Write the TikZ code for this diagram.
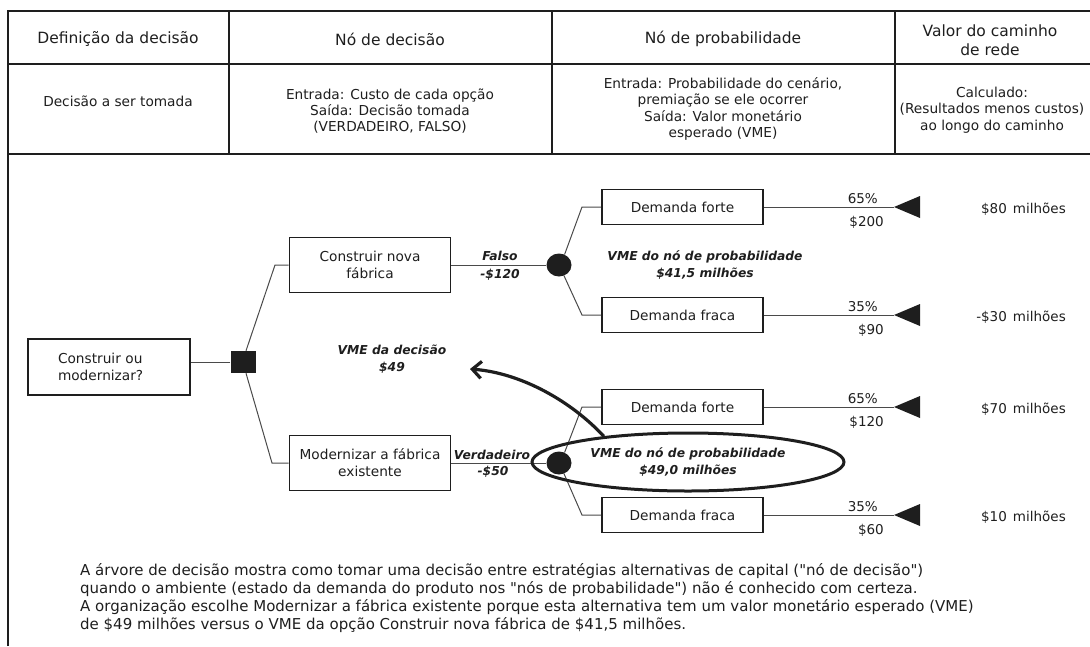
\documentclass[tikz,border=0pt]{standalone}
\usepackage{fontspec}
\setmainfont{DejaVu Sans}
\newfontfamily\rawfont{DejaVu Sans}
\usetikzlibrary{shapes.geometric,arrows.meta,calc}
\definecolor{ink}{HTML}{1E1E1E}
\definecolor{wire}{HTML}{4A4A4A}
\newcommand{\dq}{{\rawfont"}}
\begin{document}
\begin{tikzpicture}[x=1pt,y=-1pt,
  every node/.style={text=ink},
  rule/.style={line width=2pt, draw=ink},
  hdr/.style={font=\fontsize{15.5}{19}\selectfont, align=center},
  cell/.style={font=\fontsize{13.7}{16.3}\selectfont, align=center},
  lbl/.style={font=\fontsize{13.5}{16}\selectfont, inner sep=0pt},
  em/.style={font=\fontsize{12.3}{17}\selectfont\bfseries\itshape, inner sep=0pt},
  box/.style={draw=ink, line width=1.7pt, minimum width=161pt, inner sep=0pt,
    font=\fontsize{13.7}{17}\selectfont, align=center},
  wired/.style={draw=wire, line width=1pt},
  dnode/.style={fill=ink, minimum width=25pt, minimum height=22pt, inner sep=0pt},
  pnode/.style={ellipse, fill=ink, minimum width=25pt, minimum height=23pt, inner sep=0pt},
  term/.style={fill=ink}]
\useasboundingbox (0,0) rectangle (1090,646);

% ---- table frame ----
\draw[rule] (8,646) -- (8,11) -- (1090,11);
\draw[rule] (8,64) -- (1090,64);
\draw[rule] (8,154) -- (1090,154);
\foreach \cx in {229,552,895} \draw[rule] (\cx,11) -- (\cx,154);

% ---- table headers ----
\node[hdr] (h1) at (118,39) {Definição da decisão};
\node[hdr] (h2) at (390,39) {Nó de decisão};
\node[hdr] (h3) at (723,39) {Nó de probabilidade};
\node[hdr] (h4) at (990,40) {Valor do caminho\\de rede};

% ---- table descriptions ----
\node[cell] (r1) at (118,101) {Decisão a ser tomada};
\node[cell] (r2) at (390,111) {Entrada: Custo de cada opção\\Saída: Decisão tomada\\(VERDADEIRO, FALSO)};
\node[cell] (r3) at (723,109) {Entrada: Probabilidade do cenário,\\premiação se ele ocorrer\\Saída: Valor monetário\\esperado (VME)};
\node[cell] (r4) at (992,110) {Calculado:\\(Resultados menos custos)\\ao longo do caminho};

% ---- decision ----
\node[box, minimum width=162pt, minimum height=56pt, inner xsep=30pt,
      text width=102pt, align=left] (q) at (109,367) {Construir ou\\modernizar?};
\node[dnode] (sq) at (243,362) {};
\draw[wired] (sq.west) -- (sq.west -| q.east);

\node[box, minimum height=55pt] (b1) at (370,265) {Construir nova\\fábrica};
\node[box, minimum height=55pt] (b2) at (370,463) {Modernizar a fábrica\\existente};
\coordinate (k1) at (275,265);
\coordinate (k2) at (272,463);
\draw[wired] (sq.75) -- (k1) -- (b1.west);
\draw[wired] (sq.-75) -- (k2) -- (b2.west);

% ---- chance nodes ----
\node[pnode] (c1) at (559,265) {};
\node[pnode] (c2) at (559,463) {};
\draw[wired] (b1.east) -- (c1.west);
\draw[wired] (b2.east) -- (c2.west);

\node[em] (fl) at (500,256) {Falso};
\node[em] (fc) at (500,275) {-\$120};
\node[em] (vd) at (492,455) {Verdadeiro};
\node[em] (vc) at (493,472) {-\$50};

% ---- outcomes ----
\node[box, minimum height=35pt] (d1) at (682.5,207) {Demanda forte};
\node[box, minimum height=35pt] (d2) at (682.5,315) {Demanda fraca};
\node[box, minimum height=35pt] (d3) at (682.5,407) {Demanda forte};
\node[box, minimum height=35pt] (d4) at (682.5,515) {Demanda fraca};

\coordinate (j1) at (582,207);
\coordinate (j2) at (582,315);
\coordinate (j3) at (582,407);
\coordinate (j4) at (582,515);
\draw[wired] (c1.62) -- (j1) -- (d1.west);
\draw[wired] (c1.-65) -- (j2) -- (d2.west);
\draw[wired] (c2.62) -- (j3) -- (d3.west);
\draw[wired] (c2.-65) -- (j4) -- (d4.west);

% ---- end points ----
\foreach \n/\yy in {1/207,2/315,3/407,4/515}{
  \coordinate (t\n) at (894,\yy);
  \fill[term] (t\n) -- ++(26,-11) -- ++(0,22) -- cycle;
  \draw[wired] (d\n.east) -- (t\n);
}

\node[lbl, anchor=east] (p1) at (878,199) {65\%};
\node[lbl, anchor=east] (m1) at (884,222) {\$200};
\node[lbl, anchor=east] (p2) at (878,307) {35\%};
\node[lbl, anchor=east] (m2) at (884,330) {\$90};
\node[lbl, anchor=east] (p3) at (878,399) {65\%};
\node[lbl, anchor=east] (m3) at (884,422) {\$120};
\node[lbl, anchor=east] (p4) at (878,507) {35\%};
\node[lbl, anchor=east] (m4) at (884,530) {\$60};

\node[lbl, anchor=east] (v1) at (1066,209) {\$80\hspace{0.45em}milhões};
\node[lbl, anchor=east] (v2) at (1066,317) {-\$30\hspace{0.45em}milhões};
\node[lbl, anchor=east] (v3) at (1066,409) {\$70\hspace{0.45em}milhões};
\node[lbl, anchor=east] (v4) at (1066,517) {\$10\hspace{0.45em}milhões};

% ---- expected values ----
\node[em, align=center] (e1) at (705,265) {VME do nó de probabilidade\\\$41,5 milhões};
\node[em, align=center] (e0) at (392,359) {VME da decisão\\\$49};
\node[em, align=center, ellipse, draw=ink, line width=3pt, minimum width=312pt,
      minimum height=58pt] (e2) at (688,462) {VME do nó de probabilidade\\\$49,0 milhões};
\coordinate (tip) at (470,369);
\draw[line width=3.2pt, draw=ink, -{Straight Barb[length=9pt,width=17pt]}]
  (e2.163) .. controls (572,402) and (522,373) .. (tip);

% ---- caption ----
\node[anchor=north west, inner sep=0pt, align=left,
      font=\fontsize{15}{18.2}\selectfont] (cap) at (80,563)
  {A árvore de decisão mostra como tomar uma decisão entre estratégias alternativas de capital (\dq nó de decisão\dq)\\
   quando o ambiente (estado da demanda do produto nos \dq nós de probabilidade\dq) não é conhecido com certeza.\\
   A organização escolhe Modernizar a fábrica existente porque esta alternativa tem um valor monetário esperado (VME)\\
   de \$49 milhões versus o VME da opção Construir nova fábrica de \$41,5 milhões.};
\end{tikzpicture}
\end{document}
